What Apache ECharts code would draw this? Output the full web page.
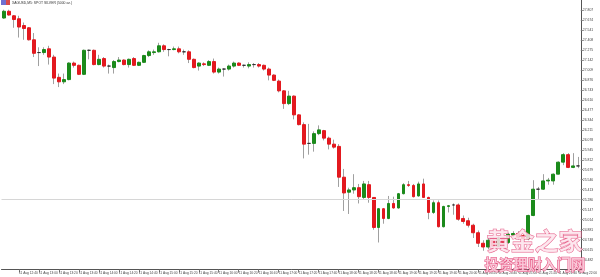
<!DOCTYPE html>
<html><head><meta charset="utf-8">
<script src="https://cdn.jsdelivr.net/npm/echarts@6/dist/echarts.min.js"></script>
<style>html,body{margin:0;padding:0;background:#fff}#c{width:600px;height:277px}</style>
</head><body><div id="c"></div>
<script>
const title = 'XAGUSD,M5: SPOT SILVER (5000 oz.)';
const dateLabel = '11 Aug 2020';
const dayPrefix = '11 Aug ';
const categories = ['12:25','12:30','12:35','12:40','12:45','12:50','12:55',
'13:00','13:05','13:10','13:15','13:20','13:25','13:30','13:35','13:40','13:45','13:50','13:55',
'14:00','14:05','14:10','14:15','14:20','14:25','14:30','14:35','14:40','14:45','14:50','14:55',
'15:00','15:05','15:10','15:15','15:20','15:25','15:30','15:35','15:40','15:45','15:50','15:55',
'16:00','16:05','16:10','16:15','16:20','16:25','16:30','16:35','16:40','16:45','16:50','16:55',
'17:00','17:05','17:10','17:15','17:20','17:25','17:30','17:35','17:40','17:45','17:50','17:55',
'18:00','18:05','18:10','18:15','18:20','18:25','18:30','18:35','18:40','18:45','18:50','18:55',
'19:00','19:05','19:10','19:15','19:20','19:25','19:30','19:35','19:40','19:45','19:50','19:55',
'20:00','20:05','20:10','20:15','20:20','20:25','20:30','20:35','20:40','20:45','20:50','20:55',
'21:00','21:05','21:10','21:15','21:20','21:25','21:30','21:35','21:40','21:45','21:50','21:55',
'22:00'];
const open = [27.70,27.79,27.73,27.69,27.60,27.57,27.41,27.24,27.24,27.29, 27.18,26.91,26.85,26.88,27.10,27.07,26.95,27.27,27.27,27.08, 27.16,27.06,27.04,27.12,27.14,27.08,27.16,27.07,27.11,27.20, 27.24,27.25,27.33,27.28,27.28,27.29,27.25,27.25,27.15,27.06, 27.09,27.07,27.12,26.98,27.02,27.02,27.06,27.10,27.07,27.06, 27.08,27.08,27.07,27.02,26.94,26.86,26.73,26.56,26.66,26.41, 26.28,26.03,26.03,26.16,26.20,26.10,26.02,25.99,25.58,25.38, 25.41,25.44,25.31,25.48,25.31,24.91,25.16,25.03,25.23,25.17, 25.36,25.48,25.47,25.33,25.49,25.31,25.11,25.24,24.92,25.19, 25.21,25.21,25.03,25.00,24.94,24.84,24.70,24.65,24.74,24.66, 24.77,24.71,24.81,24.83,24.80,24.76,25.07,25.42,25.42,25.53, 25.53,25.62,25.78,25.88,25.71,25.73];
const high = [27.81,27.81,27.74,27.73,27.64,27.58,27.50,27.31,27.31,27.33, 27.21,26.96,26.96,27.11,27.12,27.08,27.28,27.28,27.28,27.21, 27.18,27.08,27.14,27.18,27.15,27.16,27.18,27.12,27.21,27.27, 27.28,27.37,27.35,27.29,27.32,27.32,27.28,27.27,27.16,27.11, 27.11,27.14,27.16,27.04,27.03,27.08,27.12,27.11,27.08,27.11, 27.10,27.10,27.08,27.04,26.95,26.88,26.74,26.73,26.67,26.42, 26.31,26.29,26.19,26.27,26.21,26.12,26.08,26.02,25.69,25.44, 25.62,25.49,25.53,25.53,25.31,25.17,25.17,25.33,25.32,25.37, 25.50,25.53,25.49,25.52,25.56,25.32,25.27,25.27,25.20,25.21, 25.23,25.23,25.07,25.04,24.96,24.87,24.74,24.77,24.78,24.79, 24.78,24.84,24.86,24.86,24.82,25.08,25.54,25.45,25.62,25.57, 25.63,25.79,25.90,25.90,25.90,25.85];
const low = [27.69,27.73,27.57,27.44,27.41,27.40,27.18,27.06,27.21,27.08, 26.82,26.78,26.82,26.87,27.04,26.94,26.94,27.15,27.07,27.07, 27.04,26.96,26.96,27.11,27.07,27.04,27.06,27.06,27.10,27.18, 27.21,27.24,27.25,27.19,27.27,27.23,27.21,27.10,27.03,27.00, 27.06,27.06,26.96,26.96,26.92,27.00,27.04,27.06,27.04,27.03, 27.04,27.04,27.00,26.87,26.86,26.71,26.49,26.54,26.35,26.27, 25.83,25.88,25.92,26.14,26.07,25.95,25.96,25.45,25.13,25.09, 25.36,25.23,25.29,25.24,24.88,24.71,24.96,25.02,25.16,25.16, 25.35,25.45,25.31,25.32,25.31,25.02,25.09,24.91,24.91,25.11, 25.08,25.00,24.96,24.91,24.77,24.65,24.60,24.62,24.63,24.65, 24.68,24.69,24.78,24.75,24.72,24.74,25.06,25.29,25.41,25.48, 25.48,25.62,25.74,25.70,25.70,25.70];
const close = [27.79,27.74,27.68,27.58,27.56,27.41,27.23,27.24,27.28,27.18, 26.90,26.85,26.88,27.10,27.07,26.95,27.27,27.27,27.08,27.15, 27.06,27.06,27.12,27.14,27.08,27.15,27.07,27.11,27.20,27.25, 27.25,27.33,27.28,27.28,27.29,27.25,27.25,27.15,27.04,27.10, 27.08,27.12,26.98,27.02,27.02,27.06,27.10,27.07,27.07,27.08, 27.08,27.06,27.02,26.94,26.87,26.73,26.56,26.66,26.41,26.28, 26.02,26.03,26.16,26.21,26.10,26.02,25.98,25.58,25.37,25.41, 25.44,25.32,25.49,25.31,24.91,25.16,25.03,25.23,25.17,25.36, 25.48,25.47,25.32,25.49,25.31,25.11,25.24,24.92,25.19,25.20, 25.21,25.02,24.99,24.94,24.84,24.70,24.65,24.74,24.66,24.77, 24.71,24.82,24.83,24.78,24.76,25.07,25.42,25.42,25.53,25.54, 25.62,25.78,25.88,25.71,25.73,25.73];
const hLineValue = 25.28;
const yMin = 24.349, yMax = 27.94, yStep = 0.133;
const watermark1 = '黄金之家';
const watermark2 = '投资理财入门网';

const green = '#1b8a1b', red = '#e3191f', wick = '#a0a0a0';
const wickData = open.map((o, i) => [o, close[i], low[i], high[i]]);
const bodyData = open.map((o, i) => [o, close[i], Math.min(o, close[i]), Math.max(o, close[i])]);
const labelIdx = (i) => i === 0 || (i + 1) % 4 === 0;

const chart = echarts.init(document.getElementById('c'), null, {renderer: 'canvas'});
chart.setOption({
  animation: false,
  backgroundColor: '#fff',
  grid: {left: 1.5, right: 11.8, top: -3.1, bottom: 7.4, containLabel: false},
  xAxis: {
    type: 'category', data: categories, boundaryGap: true,
    axisLine: {show: true, lineStyle: {color: '#555', width: 1}},
    axisTick: {show: true, interval: (i) => (i + 1) % 4 === 0, length: 3, alignWithLabel: true, lineStyle: {color: '#777'}},
    axisLabel: {
      interval: labelIdx, fontSize: 3.2, color: '#444', align: 'left', margin: 2,
      fontFamily: 'Liberation Sans',
      formatter: (v, i) => i === 0 ? dateLabel : dayPrefix + v
    },
    splitLine: {show: false}
  },
  yAxis: {
    type: 'value', position: 'right', min: yMin, max: yMax, interval: yStep, scale: true,
    axisLine: {show: true, lineStyle: {color: '#555', width: 1}},
    axisTick: {show: true, length: 2, lineStyle: {color: '#777'}},
    axisLabel: {fontSize: 3.4, color: '#444', margin: 2, fontFamily: 'Liberation Sans',
      showMinLabel: false, showMaxLabel: false, formatter: (v) => v.toFixed(3)},
    splitLine: {show: false}
  },
  series: [
    {
      type: 'candlestick', data: wickData, barWidth: 1, z: 2,
      itemStyle: {color: wick, color0: wick, borderColor: wick, borderColor0: wick, borderColorDoji: wick, borderWidth: 1},
      markLine: {silent: true, symbol: ['none', 'none'], label: {show: false},
        lineStyle: {color: '#d6d6d6', width: 1, type: 'solid'},
        data: [{yAxis: hLineValue}]}
    },
    {
      type: 'candlestick', data: bodyData, barWidth: 3.4, z: 3,
      itemStyle: {color: green, color0: red, borderColor: green, borderColor0: red, borderColorDoji: '#333', borderWidth: 1}
    }
  ],
  graphic: [
    {type: 'rect', left: 1, top: 0, shape: {width: 9, height: 5}, style: {fill: '#6f6fd0'}, z: 50},
    {type: 'rect', left: 6, top: 0, shape: {width: 4, height: 5}, style: {fill: '#d84a4a'}, z: 51},
    {type: 'text', left: 12, top: 1.5, style: {text: title, fontSize: 3.4, fill: '#333', fontFamily: 'Liberation Sans'}, z: 50},
    {type: 'text', left: 486, top: 228, style: {text: watermark1, fontSize: 24, fontWeight: 'bold', fontFamily: 'Noto Sans CJK SC',
      fill: 'rgba(253,228,236,0.85)', stroke: '#e6628b', lineWidth: 1}, z: 100},
    {type: 'text', left: 484, top: 257, style: {text: watermark2, fontSize: 14.4, fontWeight: 'bold', fontFamily: 'Noto Sans CJK SC',
      fill: 'rgba(249,200,216,0.9)', stroke: '#e4507f', lineWidth: 1}, z: 100}
  ]
});
</script></body></html>
